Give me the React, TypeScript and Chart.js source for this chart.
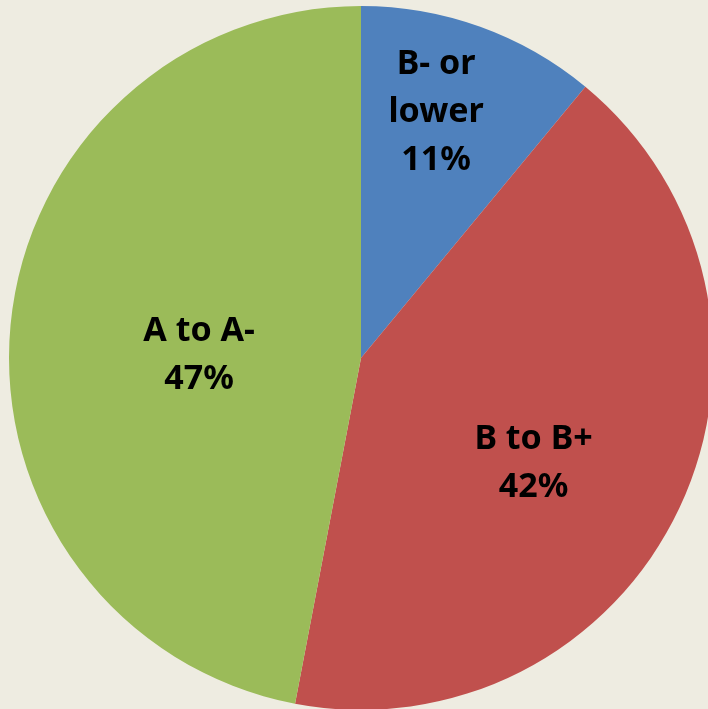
import React, { useEffect, useRef } from "react";
import { Chart, registerables } from "chart.js";

Chart.register(...registerables);

// Grade distribution
const categories = ["B- or lower", "B to B+", "A to A-"];
const labelLines = [["B- or", "lower"], ["B to B+"], ["A to A-"]];
const shares = [11, 42, 47];
const sliceColors = ["#4F81BD", "#C0504D", "#9BBB59"];

// Label anchor per slice: angle (deg, clockwise from 12 o'clock) and radius fraction
const labelAnchors: [number, number][] = [
  [17, 0.73],
  [121.5, 0.575],
  [271, 0.46],
];

const sliceLabels = {
  id: "sliceLabels",
  afterDatasetsDraw(chart: any) {
    const { ctx } = chart;
    const meta = chart.getDatasetMeta(0);
    ctx.save();
    ctx.fillStyle = "#000000";
    ctx.font = "bold 34px 'Noto Sans', 'Open Sans', sans-serif";
    ctx.textAlign = "center";
    ctx.textBaseline = "middle";
    const lineHeight = 48;
    meta.data.forEach((arc: any, i: number) => {
      const { x, y, outerRadius } = arc.getProps(["x", "y", "outerRadius"], true);
      const [deg, frac] = labelAnchors[i];
      const a = (deg * Math.PI) / 180;
      const cx = x + Math.sin(a) * outerRadius * frac;
      const cy = y - Math.cos(a) * outerRadius * frac;
      const lines = [...labelLines[i], `${shares[i]}%`];
      const top = cy - ((lines.length - 1) * lineHeight) / 2;
      lines.forEach((t, k) => ctx.fillText(t, cx, top + k * lineHeight));
    });
    ctx.restore();
  },
};

export default function App() {
  const ref = useRef<HTMLCanvasElement>(null);

  useEffect(() => {
    if (!ref.current) return;
    const chart = new Chart(ref.current, {
      type: "pie",
      data: {
        labels: categories,
        datasets: [
          {
            data: shares,
            backgroundColor: sliceColors,
            borderWidth: 0,
          },
        ],
      },
      options: {
        responsive: false,
        animation: false,
        devicePixelRatio: 1,
        layout: { padding: { left: 9, top: 6, right: 7, bottom: 10 } },
        plugins: {
          legend: { display: false },
          tooltip: { enabled: false },
        },
      },
      plugins: [sliceLabels],
    });
    return () => chart.destroy();
  }, []);

  return (
    <div
      style={{
        position: "fixed",
        left: 0,
        top: 0,
        width: 708,
        height: 709,
        overflow: "hidden",
        background: "#EEECE1",
      }}
    >
      <canvas ref={ref} width={720} height={720} style={{ display: "block" }} />
    </div>
  );
}
